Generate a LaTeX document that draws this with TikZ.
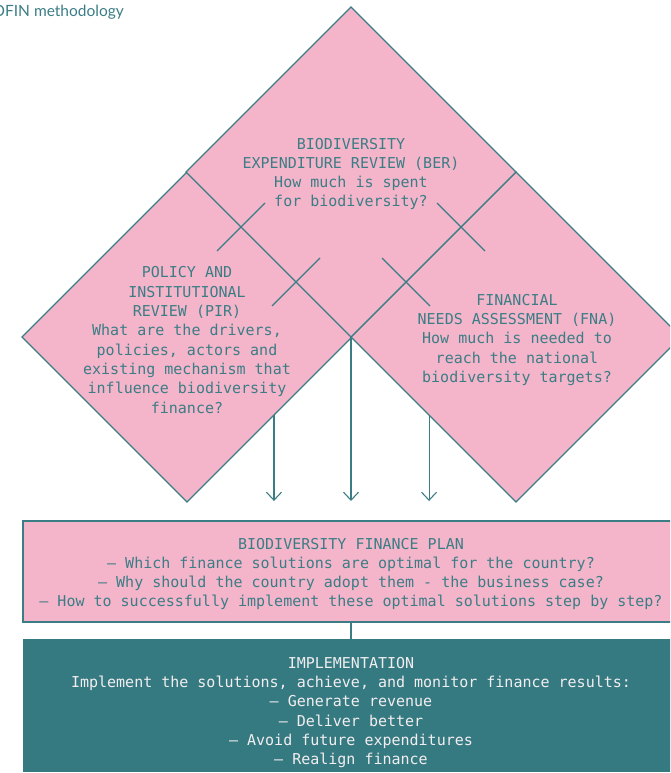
\documentclass[tikz,border=0pt]{standalone}
\usepackage{fontspec}
\setmonofont{DejaVu Sans Mono}
\newfontfamily\titlefont{Lato}
\usetikzlibrary{shapes.geometric,arrows.meta,calc}
\definecolor{bfpink}{HTML}{F4B5CB}
\definecolor{bfteal}{HTML}{3B7D85}
\definecolor{bfdark}{HTML}{367A81}
\definecolor{bflight}{HTML}{F2EEF0}
\tikzset{
  dia/.style={diamond, aspect=1, draw=bfteal, fill=bfpink, line width=1.1pt,
    minimum width=330pt, minimum height=330pt, inner sep=0pt, outer sep=0pt},
  body/.style={align=center, text=bfteal, inner sep=0pt,
    font=\ttfamily\fontsize{15}{19.3}\selectfont},
  conn/.style={draw=bfteal, line width=1.1pt},
  arr/.style={conn, -{Straight Barb[length=8pt,width=15pt,line width=1.1pt]}},
  tick/.style={conn},
  planbox/.style={rectangle, draw=bfteal, fill=bfpink, line width=1.3pt,
    minimum width=656pt, minimum height=101pt, inner sep=0pt},
  implbox/.style={rectangle, fill=bfdark, minimum width=656pt,
    minimum height=133pt, inner sep=0pt},
}
\begin{document}
\begin{tikzpicture}[x=1pt,y=-1pt]
\useasboundingbox (0,0) rectangle (670,773);
\clip (0,0) rectangle (670,773);

\node[anchor=base east, text=bfteal, inner sep=0pt,
  font=\titlefont\fontsize{15.5}{18}\selectfont] (title) at (124,17) {BIOFIN methodology};

% diamonds
\node[dia] (pir) at (187,337) {};
\node[dia] (fna) at (516,337) {};
\node[dia] (ber) at (351,172) {};

% ticks across the shared edges
\coordinate (t1) at ($(ber.west)!1/3!(ber.south)$);
\coordinate (t2) at ($(ber.west)!2/3!(ber.south)$);
\coordinate (t3) at ($(ber.east)!1/3!(ber.south)$);
\coordinate (t4) at ($(ber.east)!2/3!(ber.south)$);
\draw[tick] (t1) ++(24,-24) -- ++(-48,48);
\draw[tick] (t2) ++(24,-24) -- ++(-48,48);
\draw[tick] (t3) ++(-24,-24) -- ++(48,48);
\draw[tick] (t4) ++(-24,-24) -- ++(48,48);

% texts
\node[body] (bertext) at (351,174) {BIODIVERSITY\\EXPENDITURE REVIEW (BER)\\How much is spent\\for biodiversity?};
\node[body] (pirtext) at (187,340) {POLICY AND\\INSTITUTIONAL\\REVIEW (PIR)\\What are the drivers,\\policies, actors and\\existing mechanism that\\influence biodiversity\\finance?};
\node[body] (fnatext) at (517,340) {FINANCIAL\\NEEDS ASSESSMENT (FNA)\\How much is needed to\\reach the national\\biodiversity targets?};

% plan box
\node[planbox] (plan) at (351,571.5) {};
\node[body] (plantext) at (351,574) {BIODIVERSITY FINANCE PLAN\\– Which finance solutions are optimal for the country?\\– Why should the country adopt them - the business case?\\– How to successfully implement these optimal solutions step by step?};

% implementation box
\node[implbox] (impl) at (351,705.5) {};
\node[body, text=bflight] (impltext) at (351,712.5) {IMPLEMENTATION\\Implement the solutions, achieve, and monitor finance results:\\– Generate revenue\\– Deliver better\\– Avoid future expenditures\\– Realign finance};

% arrows
\coordinate (a1) at ($(pir.east)!0.473!(pir.south)$);
\coordinate (a3) at ($(fna.west)!0.473!(fna.south)$);
\coordinate (e1) at (a1 |- 0,501);
\coordinate (e2) at (351,501);
\coordinate (e3) at (a3 |- 0,501);
\draw[arr] (a1) -- (e1);
\draw[arr] (ber.south) -- (e2);
\draw[arr] (a3) -- (e3);

\draw[conn] (plan.south) -- (impl.north);
\end{tikzpicture}
\end{document}
